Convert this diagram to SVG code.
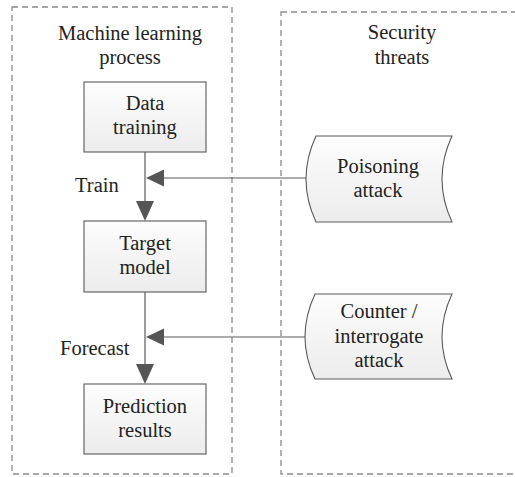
<svg xmlns="http://www.w3.org/2000/svg" width="515" height="477" viewBox="0 0 515 477">
  <style>
    .lane { fill: none; stroke: #8a8a8a; stroke-width: 1.3; stroke-dasharray: 6 4; }
    .node { fill: url(#shade); stroke: #5a5a5a; stroke-width: 1.1; }
    .wire { fill: none; stroke: #5a5a5a; stroke-width: 1.2; }
    .t { font-family: 'Liberation Serif', 'Times New Roman', serif; font-size: 20.5px; fill: #222; }
    .c { text-anchor: middle; }
  </style>
  <defs>
    <linearGradient id="shade" x1="0" y1="0" x2="0" y2="1">
      <stop offset="0" stop-color="#fdfdfd"/>
      <stop offset="1" stop-color="#ececec"/>
    </linearGradient>
  </defs>

  <g class="t">
  <!-- swimlanes -->
  <g id="lane-ml">
    <rect class="lane" x="12" y="7" width="220" height="467"/>
    <text class="c" x="130" y="40">Machine learning</text>
    <text class="c" x="130" y="64">process</text>
  </g>
  <g id="lane-threats">
    <rect class="lane" x="281" y="12" width="250" height="462"/>
    <text class="c" x="402" y="39">Security</text>
    <text class="c" x="402" y="64">threats</text>
  </g>

  <!-- connectors -->
  <g id="connectors">
    <line class="wire" x1="145" y1="152" x2="145" y2="202"/>
    <polygon points="136,201 154,201 145,221" fill="#555"/>
    <line class="wire" x1="145" y1="292" x2="145" y2="365"/>
    <polygon points="136,364 154,364 145,384" fill="#555"/>
    <line class="wire" x1="306" y1="178" x2="163" y2="178"/>
    <polygon points="164,169.5 164,186.5 146,178" fill="#555"/>
    <line class="wire" x1="305" y1="337" x2="163" y2="337"/>
    <polygon points="164,328.5 164,345.5 146,337" fill="#555"/>
    <text x="75" y="192">Train</text>
    <text x="60" y="355">Forecast</text>
  </g>

  <!-- process steps -->
  <g id="data-training">
    <rect class="node" x="84" y="82" width="122" height="70"/>
    <text class="c" x="145" y="110">Data</text>
    <text class="c" x="145" y="134">training</text>
  </g>
  <g id="target-model">
    <rect class="node" x="84" y="221" width="122" height="71"/>
    <text class="c" x="145" y="250">Target</text>
    <text class="c" x="145" y="274">model</text>
  </g>
  <g id="prediction-results">
    <rect class="node" x="84" y="384" width="122" height="70"/>
    <text class="c" x="145" y="413">Prediction</text>
    <text class="c" x="145" y="437">results</text>
  </g>

  <!-- threat sources (stored-data shapes) -->
  <g id="poisoning-attack">
    <path class="node" d="M316,136 L452,136 Q432,179 452,222 L316,222 Q296,179 316,136 Z"/>
    <text class="c" x="378" y="173">Poisoning</text>
    <text class="c" x="378" y="197">attack</text>
  </g>
  <g id="counter-attack">
    <path class="node" d="M315,294 L452,294 Q432,337 452,379 L315,379 Q295,337 315,294 Z"/>
    <text class="c" x="379" y="318">Counter /</text>
    <text class="c" x="379" y="343">interrogate</text>
    <text class="c" x="379" y="367">attack</text>
  </g>
  </g>
</svg>
